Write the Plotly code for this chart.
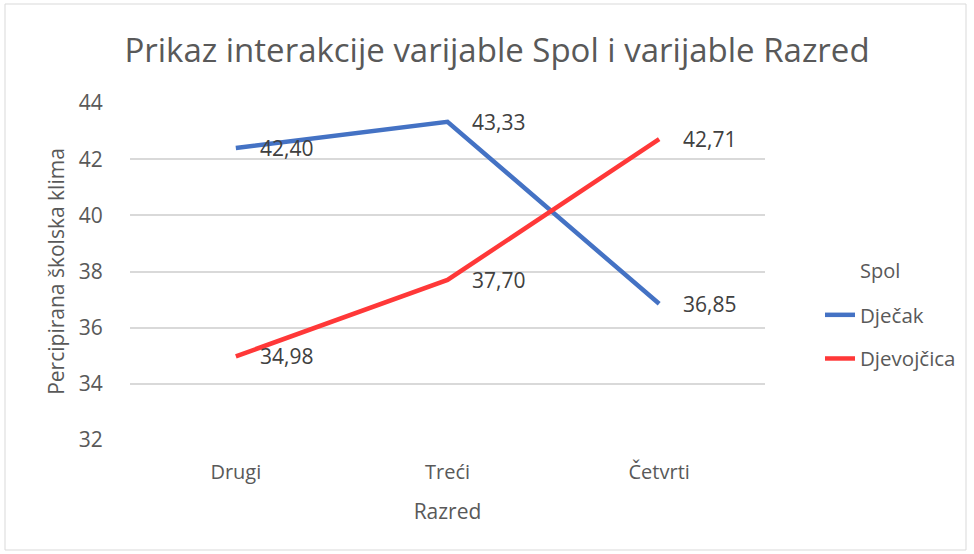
import plotly.graph_objects as go

categories = ["Drugi", "Treći", "Četvrti"]
djecak = [42.40, 43.33, 36.85]
djevojcica = [34.98, 37.70, 42.71]
y_ticks = [32, 34, 36, 38, 40, 42, 44]

BLUE = "#4472C4"
RED = "#FF3838"
TXT = "#595959"
FONT = "Open Sans"

W, H = 974, 554
ML, MR, MT, MB = 130, 209, 103, 114
PW, PH = W - ML - MR, H - MT - MB


def fmt(v):
    return f"{v:.2f}".replace(".", ",")


fig = go.Figure()
fig.add_trace(go.Scatter(x=categories, y=djecak, mode="lines", name="Dječak",
                         line=dict(color=BLUE, width=4.5), legendgroup="a"))
fig.add_trace(go.Scatter(x=categories, y=djevojcica, mode="lines", name="Djevojčica",
                         line=dict(color=RED, width=4.5), legendgroup="b"))

annotations = []
for series in (djecak, djevojcica):
    for c, v in zip(categories, series):
        annotations.append(dict(x=c, y=v, xref="x", yref="y", text=fmt(v),
                                showarrow=False, xanchor="left", yanchor="middle",
                                xshift=22, font=dict(size=21, color="#404040", family=FONT)))

px = lambda x: (x - ML) / PW
py = lambda y: (MT + PH - y) / PH

# legend title
annotations.append(dict(x=px(880), y=py(270), xref="paper", yref="paper", text="Spol",
                        showarrow=False, xanchor="center", yanchor="middle",
                        font=dict(size=20, color=TXT, family=FONT)))

# outer chart border
shapes = [dict(type="rect", xref="paper", yref="paper",
               x0=px(5), x1=px(966), y0=py(550), y1=py(4),
               line=dict(color="#D9D9D9", width=1), layer="below")]

fig.update_layout(
    width=W, height=H,
    margin=dict(l=ML, r=MR, t=MT, b=MB, autoexpand=False),
    paper_bgcolor="white", plot_bgcolor="white",
    font=dict(family=FONT, color=TXT),
    title=dict(text="Prikaz interakcije varijable Spol i varijable Razred",
               x=497 / W, xanchor="center", y=1 - 50 / H, yanchor="middle",
               font=dict(size=33, color=TXT, family=FONT)),
    xaxis=dict(showgrid=False, showline=False, zeroline=False,
               ticks="outside", ticklen=14, tickcolor="rgba(0,0,0,0)",
               tickfont=dict(size=20, color=TXT),
               title=dict(text="Razred", font=dict(size=21, color=TXT), standoff=20),
               range=[-0.5, 2.5]),
    yaxis=dict(range=[32, 44], tickvals=y_ticks, showgrid=True, gridcolor="#D9D9D9",
               gridwidth=1.5, zeroline=False, showline=False,
               ticks="outside", ticklen=22, tickcolor="rgba(0,0,0,0)",
               tickfont=dict(size=21, color=TXT),
               title=dict(text="Percipirana školska klima", font=dict(size=21, color=TXT),
                          standoff=8)),
    legend=dict(x=px(820), y=py(295), xanchor="left", yanchor="top",
                font=dict(size=20.5, color=TXT), tracegroupgap=14,
                bgcolor="rgba(0,0,0,0)"),
    annotations=annotations,
    shapes=shapes,
)

fig.write_html("out.html", config={"displayModeBar": False},
               post_script="document.body.style.margin='0';document.body.style.overflow='hidden';")
